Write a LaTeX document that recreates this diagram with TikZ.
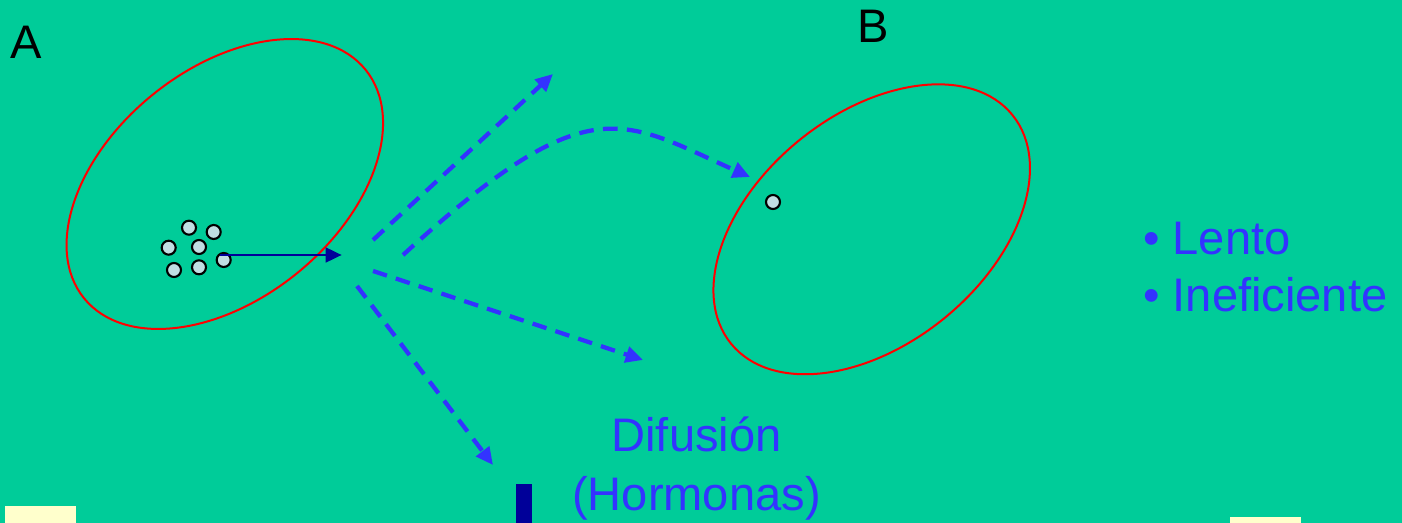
\documentclass[tikz,border=0pt]{standalone}
\usepackage{fontspec}
\setmainfont{Liberation Sans}
\usetikzlibrary{arrows.meta}
\definecolor{bggreen}{RGB}{0,204,153}
\definecolor{ellred}{RGB}{255,0,0}
\definecolor{dashblue}{RGB}{51,51,255}
\definecolor{darkblue}{RGB}{0,0,153}
\definecolor{cellfill}{RGB}{192,222,226}
\definecolor{paleyellow}{RGB}{255,255,204}
\tikzset{
  cell/.style={circle,draw=black,line width=1.6pt,fill=cellfill,minimum size=10.5pt,inner sep=0pt},
  organ/.style={draw=ellred,line width=1.5pt},
  diffuse/.style={draw=dashblue,line width=3.2pt,dash pattern=on 11pt off 7pt,
    -{Triangle[length=13pt,width=12pt]}},
  bigtext/.style={font=\fontsize{35.3}{40}\selectfont,inner sep=0pt},
  labeltext/.style={bigtext,text=black,anchor=base west},
  bluetext/.style={bigtext,text=dashblue}
}
\begin{document}
\begin{tikzpicture}[x=0.75pt,y=-0.75pt]
\useasboundingbox (0,0) rectangle (1402,523);
\fill[bggreen] (0,0) rectangle (1402,523);
% organisms
\draw[organ,rotate around={39.1:(224.8,184)}] (224.8,184) ellipse [x radius=181.3,y radius=114.8];
\draw[organ,rotate around={39.1:(871.7,229.3)}] (871.7,229.3) ellipse [x radius=181.3,y radius=114.8];
% labels
\node[labeltext] (lA) at (10,58.3) {A};
\node[labeltext] (lB) at (857,42.3) {B};
% cells in A
\node[cell] (c1) at (189,227.7) {};
\node[cell] (c2) at (213.7,232) {};
\node[cell] (c3) at (168.7,247.7) {};
\node[cell] (c4) at (199,247) {};
\node[cell] (c5) at (223.7,260) {};
\node[cell] (c6) at (174,270) {};
\node[cell] (c7) at (199,267.3) {};
% cell in B
\node[cell] (cb) at (773,202) {};
% secretion arrow
\coordinate (s0) at (220,255);
\coordinate (s1) at (341.7,255);
\draw[darkblue,line width=2pt,-{Triangle[length=12pt,width=11pt]}] (s0) -- (s1);
% diffusion arrows
\coordinate (d1s) at (373,240);
\coordinate (d1e) at (553,74);
\coordinate (d2s) at (403,255);
\coordinate (d2e) at (750,177);
\coordinate (d3s) at (373,271);
\coordinate (d3e) at (643,360);
\coordinate (d4s) at (357,286);
\coordinate (d4e) at (493,465);
\draw[diffuse] (d1s) -- (d1e);
\draw[diffuse] (d2s) .. controls (590,84) and (622,120) .. (d2e);
\draw[diffuse] (d3s) -- (d3e);
\draw[diffuse] (d4s) -- (d4e);
% texts
\node[bluetext,anchor=base] (dif) at (696.5,451.7) {Difusión};
\node[bluetext,anchor=base] (hor) at (696.5,510) {(Hormonas)};
\node[bluetext,anchor=base west] (b1) at (1143,254.3) {• Lento};
\node[bluetext,anchor=base west] (b2) at (1143,311.7) {• Ineficiente};
% bottom elements
\fill[darkblue] (516,484) rectangle (532,523);
\fill[paleyellow] (5,506) rectangle (76,523);
\fill[paleyellow] (1230,517) rectangle (1301,523);
\end{tikzpicture}
\end{document}
